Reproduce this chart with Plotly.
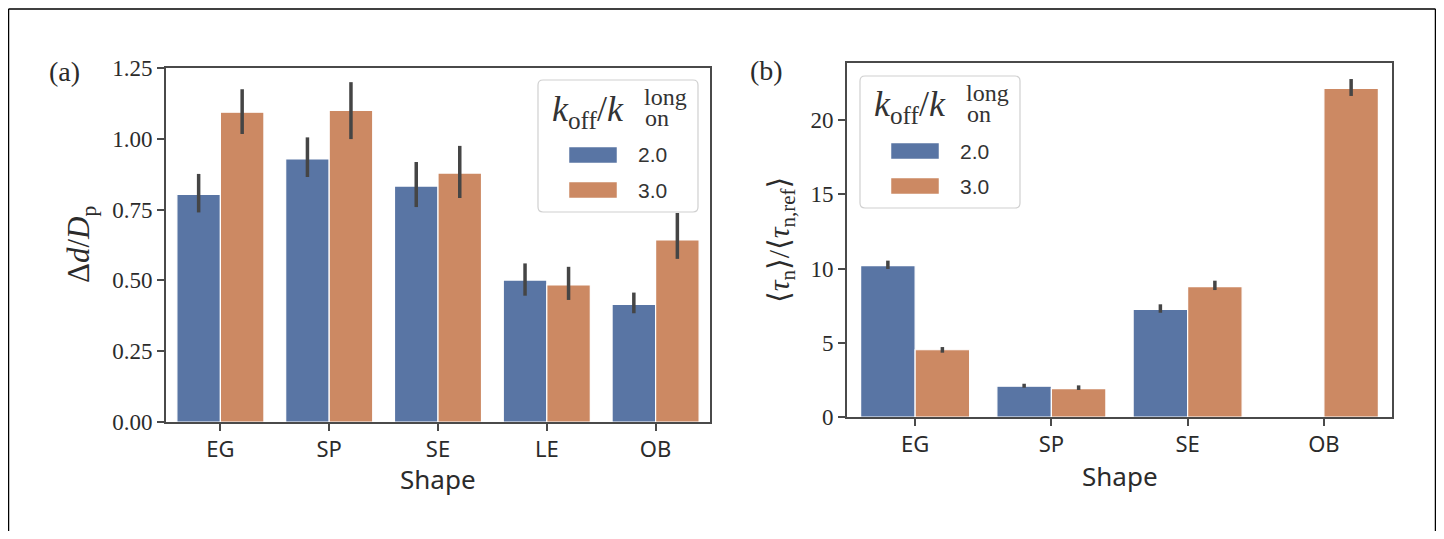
import plotly.graph_objects as go

W, H = 1428, 523   # plot div size; it sits 8 px inside the page (body margin)
OFF = 8

# ---------------- data ----------------
shapes_a = ["EG", "SP", "SE", "LE", "OB"]
a_val_20 = [0.804, 0.929, 0.833, 0.501, 0.415]
a_lo_20 = [0.740, 0.865, 0.759, 0.446, 0.384]
a_hi_20 = [0.876, 1.005, 0.918, 0.560, 0.457]
a_val_30 = [1.094, 1.100, 0.879, 0.484, 0.643]
a_lo_30 = [1.017, 0.999, 0.791, 0.431, 0.576]
a_hi_30 = [1.175, 1.200, 0.975, 0.548, 0.738]

shapes_b = ["EG", "SP", "SE", "OB"]
b_val_20 = [10.19, 2.07, 7.25, None]
b_lo_20 = [9.97, 1.97, 7.02, None]
b_hi_20 = [10.53, 2.24, 7.59, None]
b_val_30 = [4.53, 1.91, 8.78, 22.13]
b_lo_30 = [4.33, 1.82, 8.55, 21.62]
b_hi_30 = [4.71, 2.13, 9.18, 22.76]

a_ticks = [0, 0.25, 0.5, 0.75, 1.0, 1.25]
a_ticktext = ["0.00", "0.25", "0.50", "0.75", "1.00", "1.25"]
b_ticks = [0, 5, 10, 15, 20]
b_ticktext = ["0", "5", "10", "15", "20"]
legend_labels = ["2.0", "3.0"]

# ---------------- style ----------------
C_BLUE = "#5975a4"
C_ORANGE = "#cc8963"
C_ERR = "#454545"
C_SPINE = "#4a4a4a"
C_TEXT = "#2b2b2b"
SERIF = "Liberation Serif, DejaVu Serif, serif"
SANS = "Noto Sans, DejaVu Sans, sans-serif"
LSANS = "Liberation Sans, Arial, sans-serif"


def X(px):
    return (px - OFF) / W


def Y(py):
    return 1 - (py - OFF) / H


def err(val, lo, hi):
    plus = [None if v is None else h - v for v, h in zip(val, hi)]
    minus = [None if v is None else v - l for v, l in zip(val, lo)]
    return dict(type="data", symmetric=False, array=plus, arrayminus=minus,
                color=C_ERR, thickness=3.5, width=0)


fig = go.Figure()


def add_bars(cats, val, lo, hi, color, xa, ya, name):
    fig.add_trace(go.Bar(
        x=cats, y=val, name=name, marker=dict(color=color, line=dict(color="white", width=1.2)),
        error_y=err(val, lo, hi), xaxis=xa, yaxis=ya, showlegend=False))


add_bars(shapes_a, a_val_20, a_lo_20, a_hi_20, C_BLUE, "x", "y", legend_labels[0])
add_bars(shapes_a, a_val_30, a_lo_30, a_hi_30, C_ORANGE, "x", "y", legend_labels[1])
add_bars(shapes_b, b_val_20, b_lo_20, b_hi_20, C_BLUE, "x2", "y2", legend_labels[0])
add_bars(shapes_b, b_val_30, b_lo_30, b_hi_30, C_ORANGE, "x2", "y2", legend_labels[1])

axis_common = dict(showline=True, linewidth=2, linecolor=C_SPINE, mirror=True,
                   ticks="outside", ticklen=7, tickwidth=2, tickcolor=C_SPINE,
                   showgrid=False, zeroline=False, fixedrange=True, automargin=False)

fig.update_layout(
    width=W, height=H, autosize=False, margin=dict(l=0, r=0, t=0, b=0, pad=0),
    paper_bgcolor="white", plot_bgcolor="white", showlegend=False,
    barmode="group", bargap=0.2, bargroupgap=0.0,
    xaxis=dict(domain=[X(166), X(710)], anchor="y", type="category",
               range=[-0.5, 4.5], tickfont=dict(family=SANS, size=22, color=C_TEXT), **axis_common),
    yaxis=dict(domain=[Y(422), Y(68)], anchor="x", range=[0, 1.25],
               tickvals=a_ticks, ticktext=a_ticktext,
               tickfont=dict(family=SERIF, size=23, color=C_TEXT), **axis_common),
    xaxis2=dict(domain=[X(847), X(1392)], anchor="y2", type="category",
                range=[-0.5, 3.5], tickfont=dict(family=SANS, size=22, color=C_TEXT), **axis_common),
    yaxis2=dict(domain=[Y(417), Y(63)], anchor="x2", range=[0, 23.84],
                tickvals=b_ticks, ticktext=b_ticktext,
                tickfont=dict(family=SERIF, size=23, color=C_TEXT), **axis_common),
)

shapes = []
annots = []

# outer frame (top, left, right edges)
for (xa, ya, xb, yb) in [(8.5, 9, 1435.5, 9), (8.5, 9, 8.5, 600), (1435.5, 9, 1435.5, 600)]:
    shapes.append(dict(type="line", xref="paper", yref="paper",
                       x0=X(xa), y0=Y(ya), x1=X(xb), y1=Y(yb),
                       line=dict(color="black", width=1.5)))


def rounded_box(x0, y0, x1, y1, r=5):
    p = [
        f"M {X(x0 + r)},{Y(y0)}",
        f"L {X(x1 - r)},{Y(y0)}",
        f"Q {X(x1)},{Y(y0)} {X(x1)},{Y(y0 + r)}",
        f"L {X(x1)},{Y(y1 - r)}",
        f"Q {X(x1)},{Y(y1)} {X(x1 - r)},{Y(y1)}",
        f"L {X(x0 + r)},{Y(y1)}",
        f"Q {X(x0)},{Y(y1)} {X(x0)},{Y(y1 - r)}",
        f"L {X(x0)},{Y(y0 + r)}",
        f"Q {X(x0)},{Y(y0)} {X(x0 + r)},{Y(y0)} Z",
    ]
    return dict(type="path", xref="paper", yref="paper", path=" ".join(p),
                line=dict(color="#d0d0d0", width=1.2), fillcolor="rgba(255,255,255,0.85)")


def txt(x, y, text, family, size, xanchor="center", yanchor="middle", angle=0, color=C_TEXT):
    annots.append(dict(x=X(x), y=Y(y), xref="paper", yref="paper", text=text,
                       showarrow=False, xanchor=xanchor, yanchor=yanchor, textangle=angle,
                       font=dict(family=family, size=size, color=color)))


def legend(bx, by):
    shapes.append(rounded_box(bx, by, bx + 160, by + 132))
    for i, (col, lab) in enumerate(zip([C_BLUE, C_ORANGE], legend_labels)):
        py0 = by + 67 + i * 35
        shapes.append(dict(type="rect", xref="paper", yref="paper",
                           x0=X(bx + 31), x1=X(bx + 79), y0=Y(py0 + 16), y1=Y(py0),
                           fillcolor=col, line=dict(color="white", width=0.5)))
        txt(bx + 98, py0 + 8, lab, LSANS, 21, xanchor="left", color="#333333")
    txt(bx + 88, by + 31, "<i>k</i><sub>off</sub>/<i>k</i>", SERIF, 36, xanchor="right", color="#333333")
    txt(bx + 104, by + 17, "long", SERIF, 24, xanchor="left", color="#333333")
    txt(bx + 105, by + 38, "on", SERIF, 24, xanchor="left", color="#333333")


legend(538, 80)
legend(860, 76)

# panel labels
txt(64, 71, "(a)", SERIF, 28)
txt(766, 70, "(b)", SERIF, 28)

# axis titles
txt(81, 245, "Δ<i>d</i>/<i>D</i><sub>p</sub>", SERIF, 31, angle=-90)
txt(781, 240, "⟨<i>τ</i><sub>n</sub>⟩/⟨<i>τ</i><sub>n,ref</sub>⟩", SERIF, 30, angle=-90)
txt(438, 479, "Shape", SANS, 26)
txt(1120, 476, "Shape", SANS, 26)

fig.update_layout(shapes=shapes, annotations=annots)
fig.write_html("out.html")
